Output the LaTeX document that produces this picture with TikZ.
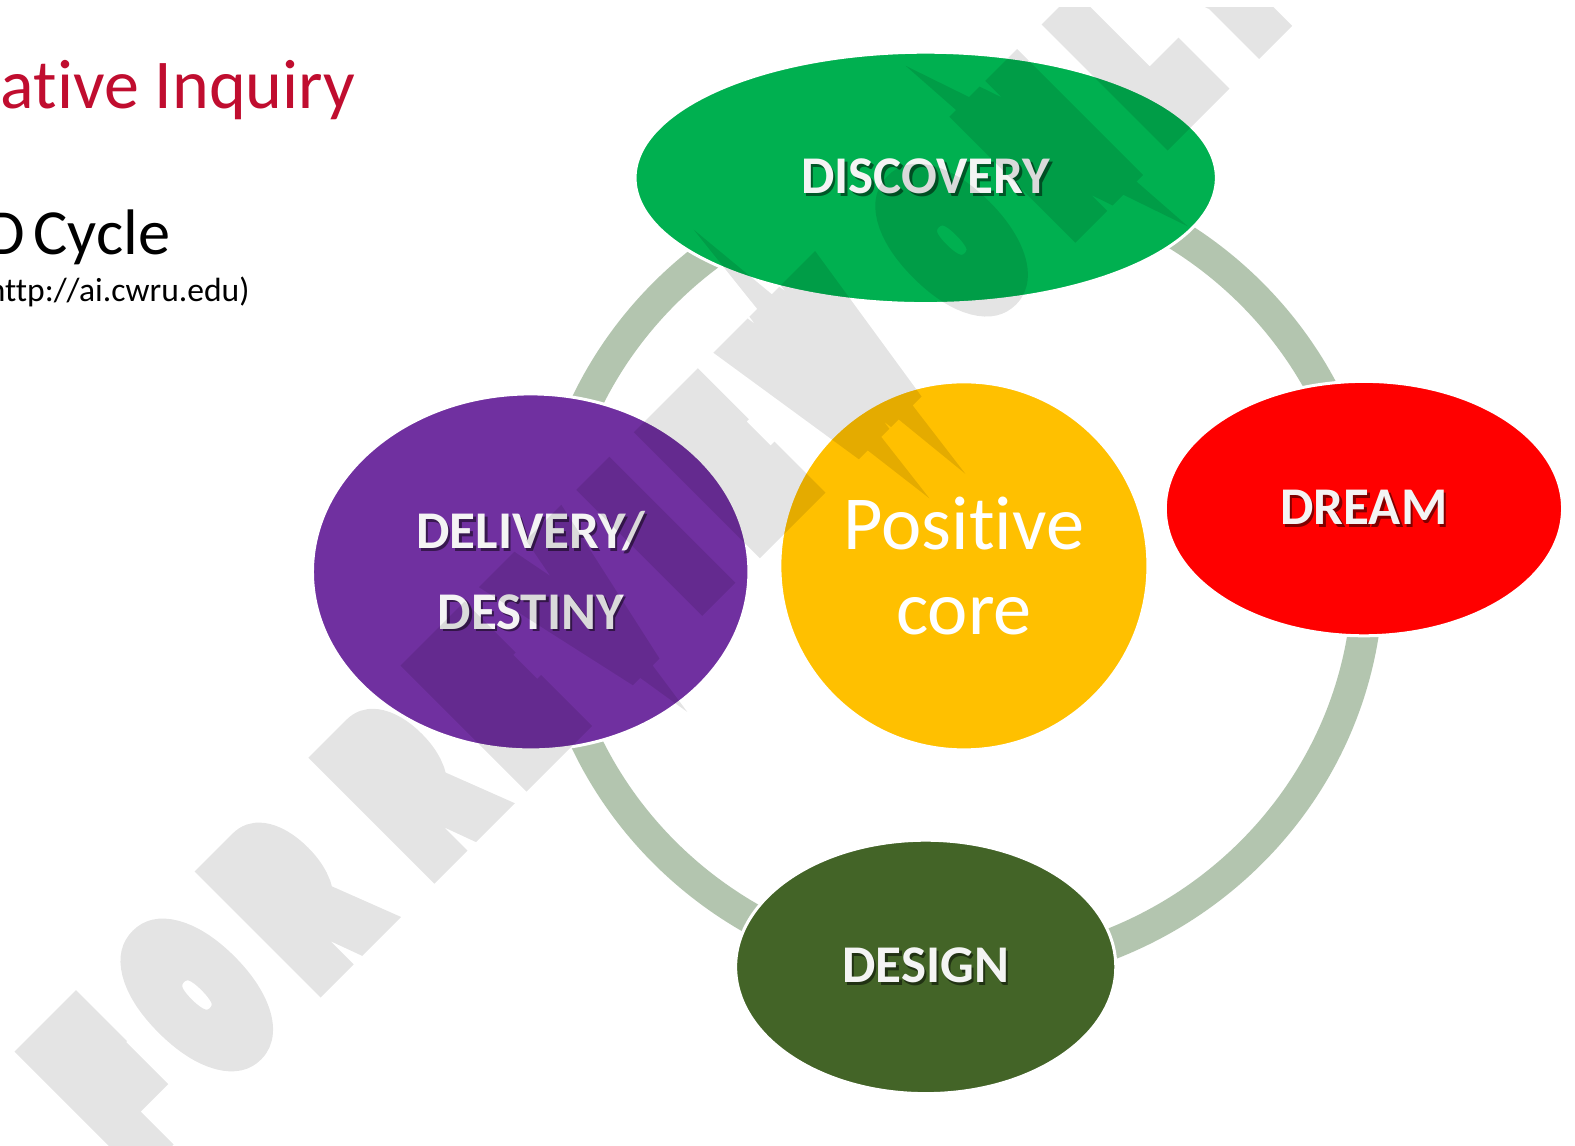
\documentclass[tikz,border=0pt]{standalone}
\usepackage{fontspec}
\setmainfont[Ligatures={NoCommon}]{Carlito}
\newfontfamily\wmfont[BoldFeatures={FakeBold=28}, LetterSpace=46]{Liberation Sans}
\usetikzlibrary{shapes.geometric}
\definecolor{discgreen}{HTML}{00B050}
\definecolor{dreamred}{HTML}{FF0000}
\definecolor{delpurple}{HTML}{7030A0}
\definecolor{coreyellow}{HTML}{FFC000}
\definecolor{desgreen}{HTML}{436427}
\definecolor{ringc}{HTML}{B3C5AF}
\definecolor{titlered}{HTML}{C00D2F}
\definecolor{lblwhite}{HTML}{F4F4F4}
\newcommand\shd[2]{\leavevmode\rlap{\kern0.7pt\raisebox{-0.7pt}{\textcolor{#1}{#2}}}#2}
\begin{document}
\begin{tikzpicture}[x=0.01cm,y=-0.01cm,
  blob/.style={ellipse, inner sep=0pt, draw=white, line width=0.03cm},
  lbl/.style={text=lblwhite, font=\fontsize{15pt}{22.8pt}\selectfont\bfseries, align=center},
  corelbl/.style={text=white, font=\fontsize{21.6pt}{24.2pt}\selectfont, align=center},
  plain/.style={inner sep=0pt, anchor=base west}
]
\fill[white] (0,0) rectangle (1575,1145);

% titles
\node[plain, text=titlered, font=\fontsize{19.8pt}{22pt}\selectfont] (title) at (0,108) {ative Inquiry};
\node[inner sep=0pt, anchor=base east, text=black, font=\fontsize{18.2pt}{20pt}\selectfont] (cycle) at (170,253) {D\hspace{-0.1em} Cycle};
\node[inner sep=0pt, anchor=base east, text=black, font=\fontsize{9.5pt}{11pt}\selectfont] (url) at (249,300) {http://ai.cwru.edu)};

% ring
\draw[ringc, line width=0.31cm] (953,570) ellipse [x radius=408, y radius=398];

% ellipses
\node[blob, fill=discgreen, minimum width=5.78cm, minimum height=2.50cm, lbl] (disc) at (921,177) {\shd{black!50!discgreen}{DISCOVERY}};
\node[blob, fill=dreamred, minimum width=3.95cm, minimum height=2.53cm, lbl] (dream) at (1357,506) {\shd{black!50!dreamred}{DREAM}};
\node[blob, fill=delpurple, minimum width=4.34cm, minimum height=3.54cm, lbl] (deliv) at (528,569) {\shd{black!50!delpurple}{DELIVERY/}\\\shd{black!50!delpurple}{DESTINY}};
\node[blob, fill=coreyellow, minimum width=3.66cm, minimum height=3.66cm, corelbl] (core) at (959,563) {Positive\\core};
\node[blob, fill=desgreen, minimum width=3.78cm, minimum height=2.52cm, lbl] (design) at (921,962) {\shd{black!50!desgreen}{DESIGN}};

% watermark
\begin{scope}[transparency group, opacity=0.105, line join=miter, miter limit=2]
\clip (0,7) rectangle (1575,1145);
\node[plain, rotate=45, xscale=0.60, text=black, font=\wmfont\fontsize{52pt}{60pt}\selectfont\bfseries] (wm) at (127,1148) {FOR REVIEW ONLY};
\end{scope}
\pgfresetboundingbox
\path[use as bounding box] (0,0) rectangle (1567,1139.3);
\end{tikzpicture}
\end{document}
